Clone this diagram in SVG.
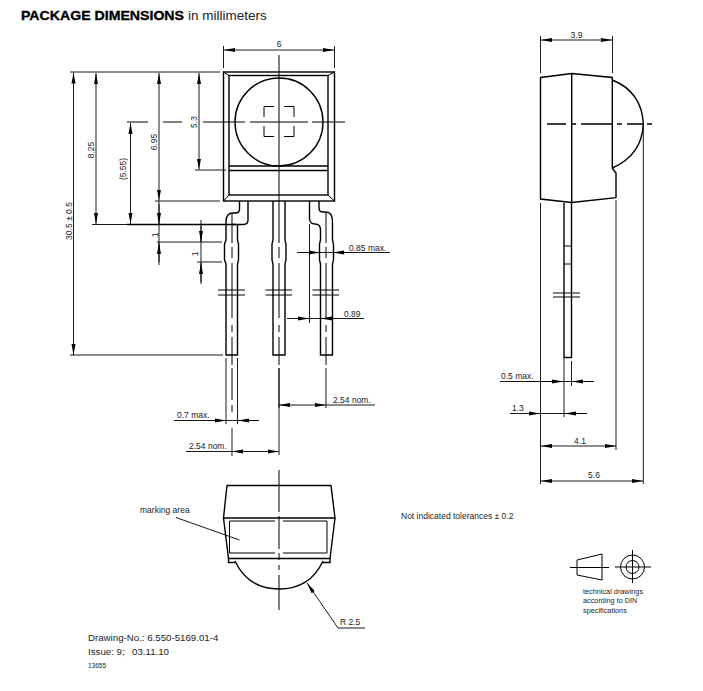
<svg xmlns="http://www.w3.org/2000/svg" width="703" height="691" viewBox="0 0 703 691">
<style>
text{font-family:"Liberation Sans",Arial,sans-serif;font-size:8.5px;fill:#222}
.o{fill:none;stroke:#000;stroke-width:1.4}
.t{fill:none;stroke:#000;stroke-width:1}
.d{fill:none;stroke:#000;stroke-width:.9}
.a{marker-start:url(#s);marker-end:url(#e)}
.ae{marker-end:url(#e)}
</style>
<defs>
<marker id="e" markerUnits="userSpaceOnUse" markerWidth="12" markerHeight="6" refX="11" refY="3" orient="auto"><path d="M0 1L11 3L0 5Z" fill="#000"/></marker>
<marker id="s" markerUnits="userSpaceOnUse" markerWidth="12" markerHeight="6" refX="1" refY="3" orient="auto"><path d="M12 1L1 3L12 5Z" fill="#000"/></marker>
</defs>
<rect width="703" height="691" fill="#fff"/>
<g id="title"><text x="21" y="20" textLength="163" lengthAdjust="spacingAndGlyphs" style="font-size:13.500px;font-weight:bold;fill:#000;stroke:#000;stroke-width:.35">PACKAGE DIMENSIONS</text><text x="188" y="20" style="font-size:13.500px">in millimeters</text></g>

<g id="front-view">
<rect class="o" x="223.500" y="72" width="111" height="129"/>
<rect class="o" x="229" y="75.500" width="99" height="119.500"/>
<path class="t" d="M223.500 72L229 75.500M334.500 72L328 75.500M223.500 201L229 195M334.500 201L328 195"/>
<circle class="o" cx="279" cy="122" r="44"/>
<path class="o" d="M229 166H328M229 170.500H328"/>
<path class="t" d="M264 117V106.500H274M284 106.500H294V117M264 126V136.500H274M284 136.500H294V126"/>
<g id="leads" class="o">
<path d="M239.500 201V209Q239.500 213 235.500 213H233Q226 213 226 222V240L224.500 244V260L226 264V355H237.500V264L238.500 260V244L237.500 240V224"/>
<path d="M248 201V220Q248 224.500 243.500 224.500H232"/>
<path d="M273 201V240L272 244V260L273 264V355H285V264L286 260V244L285 240V201"/>
<path d="M309.500 201V219Q310 224 315 224Q320.500 224 320.500 230V240L319.500 244V260L320.500 264V355H332.500V264L333.500 260V244L332.500 240V222Q332.500 212 326 212H323Q319 212 319 208V201"/>
</g>
<path class="t" d="M218 290H245M218 295H245M265.500 290H292M265.500 295H292M312.500 290H339M312.500 295H339"/>
<path class="t" d="M232 213V243M232 247V258M232 263V318M232 325V332M232 337V365M232 368V400M232 405V412"/>
<path class="t" d="M279 205V243M279 247V258M279 263V318M279 325V332M279 337V365"/>
<path class="t" d="M326 212V243M326 247V258M326 263V318M326 325V332M326 337V365"/>
<path class="t" d="M127 122H148M163 122H182M203 122H245M250 122H308M312 122H345"/>
<path class="t" d="M279 55V205"/>
</g>

<g id="side-view">
<path class="o" d="M540.500 77.500L571.700 73.500L612.300 77.500V168.300L616 173V197.700L571.700 202.500L540.500 199Z"/>
<path class="o" d="M571.700 73.500V202.500"/>
<path class="o" d="M612.300 80Q642 92 643.300 124Q642 155 612.300 168"/>
<path class="o" d="M564 203V357.500H571.500V203"/>
<path class="t" d="M564 246H571.500M564 264H571.500"/>
<path class="t" d="M553 293H580M553 297H580"/>
<path class="o" d="M547 124H566M571 124H576M581 124H613M617 124H622M627 124H643M647 124H652"/>
</g>

<g id="bottom-view">
<path class="o" d="M227 485.500H331L335 518H223.500Z"/>
<path class="o" d="M223.500 518L228.500 558.500H330L335 518"/>
<path class="t" d="M275 521H229.500V553H275M283 521H327V553H283"/>
<path class="o" d="M228.500 558.500V562.500H236M330 558.500V562.500H322"/>
<path class="o" d="M235 561Q248 589 279 589Q310 589 323 561"/>
<path class="t" d="M279 470V512M279 516V549M279 553V560M279 565V570M279 575V610"/>
</g>

<g id="connectors">
<path class="d" d="M223.500 46V68M334.500 46V68"/>
<path class="d a" d="M224 50H334"/>
<path class="d" d="M70 72H220"/>
<path class="d a" d="M73.500 72.500V355"/>
<path class="d" d="M70 355H223"/>
<path class="d a" d="M96 73V224"/>
<path class="d" d="M92 224.500H127"/>
<path class="o" d="M127 224.500H236"/>
<path class="d a" d="M130.500 123V224"/>
<path class="d a" d="M159 73V200.500"/>
<path class="d" d="M155 201H220"/>
<path class="d a" d="M199 73V169.500"/>
<path class="d" d="M195 170H226"/>
<path class="d" d="M159 201V265"/>
<path class="d" d="M157 242H222M197 262H222"/>
<path class="d ae" d="M159 204V224"/>
<path class="d ae" d="M159 262V243"/>
<path class="d" d="M201 220V284"/>
<path class="d ae" d="M201 226V242"/>
<path class="d ae" d="M201 282V263"/>
<path class="d" d="M297 252.500H390"/>
<path class="d ae" d="M300 252.500H320"/>
<path class="d ae" d="M352 252.500H333"/>
<path class="d" d="M309.500 224V323"/>
<path class="d" d="M287 318.500H364"/>
<path class="d ae" d="M295 318.500H309"/>
<path class="d ae" d="M336 318.500H321"/>
<path class="d" d="M226 358V424M237.500 358V424"/>
<path class="d" d="M174 420.500H259"/>
<path class="d ae" d="M208 420.500H226"/>
<path class="d ae" d="M258 420.500H238"/>
<path class="d" d="M232 428V456"/>
<path class="o" d="M279 368V408"/>
<path class="d" d="M279 408V455M326 368V408"/>
<path class="d" d="M186 451.500H232"/>
<path class="d a" d="M232 451.500H279"/>
<path class="d a" d="M279 405H326"/>
<path class="d" d="M326 405H375"/>
<path class="d" d="M540.500 36V73M612.500 36V73"/>
<path class="d a" d="M541 40H612"/>
<path class="d" d="M540.500 203V484M616 200V450M643.300 124V484"/>
<path class="d" d="M500 381.500H594"/>
<path class="d ae" d="M527 381.500H563"/>
<path class="d ae" d="M594 381.500H572"/>
<path class="d" d="M564 358V417M571.500 361V386"/>
<path class="d" d="M510 413.500H587"/>
<path class="d ae" d="M529 413.500H540"/>
<path class="d ae" d="M587 413.500H565"/>
<path class="d a" d="M541 446H616"/>
<path class="d a" d="M541 481H643"/>
<path class="d" d="M176 517.500L239.500 540"/>
<path class="d ae" d="M338 628L307 583"/>
<path class="d" d="M338 628H365"/>
</g>

<g id="din-symbol" class="t">
<path d="M570 567.500H609M577 560L602 554V580L577 575Z"/>
<circle cx="632.500" cy="567" r="12"/><circle cx="632.500" cy="567" r="6.500"/>
<path d="M615 567H651M632.500 550V583"/>
</g>

<g id="labels">
<text x="279" y="47" text-anchor="middle">6</text>
<text transform="translate(72,221) rotate(-90)" text-anchor="middle">30.5 ± 0.5</text>
<text transform="translate(94,150) rotate(-90)" text-anchor="middle">8.25</text>
<text transform="translate(126,169) rotate(-90)" text-anchor="middle">(5.55)</text>
<text transform="translate(157,142) rotate(-90)" text-anchor="middle">6.95</text>
<text transform="translate(197,122) rotate(-90)" text-anchor="middle">5.3</text>
<text transform="translate(158,235) rotate(-90)" text-anchor="middle">1</text>
<text transform="translate(198,254) rotate(-90)" text-anchor="middle">1</text>
<text x="349" y="251">0.85 max.</text>
<text x="344" y="317">0.89</text>
<text x="333" y="403">2.54 nom.</text>
<text x="177" y="418">0.7 max.</text>
<text x="189" y="449">2.54 nom.</text>
<text x="576.500" y="38" text-anchor="middle">3.9</text>
<text x="501" y="379">0.5 max.</text>
<text x="512" y="411">1.3</text>
<text x="580" y="444" text-anchor="middle">4.1</text>
<text x="594" y="478" text-anchor="middle">5.6</text>
<text x="140" y="513">marking area</text>
<text x="340" y="625">R 2.5</text>
<text x="401" y="519">Not indicated tolerances ± 0.2</text>
<text x="583" y="594" style="font-size:7.300px">technical drawings</text>
<text x="583" y="603" style="font-size:7.300px">according to DIN</text>
<text x="583" y="613" style="font-size:7.300px">specifications</text>
<text x="88" y="641" style="font-size:9.700px">Drawing-No.: 6.550-5169.01-4</text>
<text x="88" y="655" style="font-size:9.700px">Issue: 9;<tspan x="132">03.11.10</tspan></text>
<text x="88" y="668" style="font-size:6.500px">13655</text>
</g>
</svg>
